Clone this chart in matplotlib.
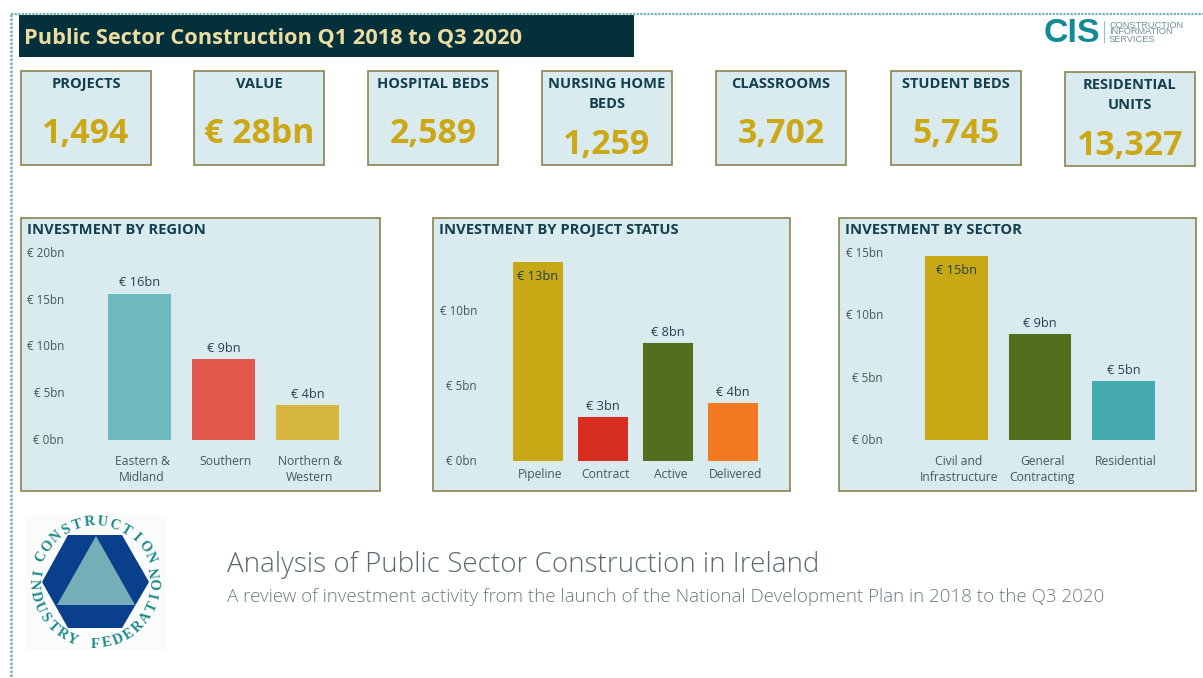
import numpy as np
import matplotlib
matplotlib.use("Agg")
import matplotlib.pyplot as plt
from matplotlib.patches import Rectangle, Polygon
from matplotlib.transforms import ScaledTranslation

W, H = 1203, 678
FONT = "Open Sans"
plt.rcParams["font.family"] = [FONT, "DejaVu Sans"]

# ---- data ----
title = "Public Sector Construction Q1 2018 to Q3 2020"
kpi_names = ["PROJECTS", "VALUE", "HOSPITAL BEDS", "NURSING HOME\nBEDS", "CLASSROOMS", "STUDENT BEDS", "RESIDENTIAL\nUNITS"]
kpi_values = ["1,494", "€ 28bn", "2,589", "1,259", "3,702", "5,745", "13,327"]

region_cats = ["Eastern &\nMidland", "Southern", "Northern &\nWestern"]
region_vals = [15.65, 8.65, 3.75]
region_labels = ["€ 16bn", "€ 9bn", "€ 4bn"]
region_ticks = [0, 5, 10, 15, 20]
region_cols = ["#6db9bf", "#e2564c", "#d6b63e"]

status_cats = ["Pipeline", "Contract", "Active", "Delivered"]
status_vals = [13.27, 2.93, 7.87, 3.87]
status_labels = ["€ 13bn", "€ 3bn", "€ 8bn", "€ 4bn"]
status_ticks = [0, 5, 10]
status_cols = ["#c9a815", "#d82e20", "#536f1e", "#f47a22"]

sector_cats = ["Civil and\nInfrastructure", "General\nContracting", "Residential"]
sector_vals = [14.75, 8.5, 4.73]
sector_labels = ["€ 15bn", "€ 9bn", "€ 5bn"]
sector_ticks = [0, 5, 10, 15]
sector_cols = ["#c9a815", "#536f1e", "#45a9b0"]

heading = "Analysis of Public Sector Construction in Ireland"
subheading = "A review of investment activity from the launch of the National Development Plan in 2018 to the Q3 2020"

# ---- canvas ----
fig = plt.figure(figsize=(W / 100, H / 100), dpi=100, facecolor="white")
bg = fig.add_axes([0, 0, 1, 1])
bg.set_xlim(0, W)
bg.set_ylim(H, 0)
bg.axis("off")

PANEL = "#d9ebee"
EDGE = "#8c8350"
DARK = "#123f4d"
GOLD = "#cda816"
GREY = "#44585f"

# report border
bg.plot([10.5, W], [14, 14], color="#6fb3b3", lw=1.6, ls=(0, (1, 0.6)))
bg.plot([10.5, 10.5], [14, H], color="#6fb3b3", lw=1.8, ls=(0, (1, 0.6)))

# title bar
bg.add_patch(Rectangle((19, 15), 615, 42, fc="#04303b", ec="none"))
bg.text(24, 38, title, color="#ecdca0", fontsize=15.7, fontweight="bold", va="center", ha="left")

# CIS logo
bg.text(1044, 34, "CIS", color="#138a94", fontsize=24.5, fontweight="bold", family="Liberation Sans",
        va="center", ha="left")
bg.plot([1104, 1104], [21, 42], color="#8cc4c8", lw=0.8)
for yy, s in zip([25, 32, 39], ["CONSTRUCTION", "INFORMATION", "SERVICES"]):
    bg.text(1109, yy, s, color="#6f8f95", fontsize=6.7, va="center", ha="left", family="Liberation Sans")

# KPI cards
kpi_x = [21, 194, 368, 542, 716, 891, 1065]
kpi_top = [71, 71, 71, 71, 71, 71, 72]
for x, top, name, val in zip(kpi_x, kpi_top, kpi_names, kpi_values):
    w = 130
    h = 94
    bg.add_patch(Rectangle((x, top), w, h, fc=PANEL, ec=EDGE, lw=1.2))
    two = "\n" in name
    if two:
        l1, l2 = name.split("\n")
        bg.text(x + w / 2, top + 13, l1, color=DARK, fontsize=10.5, fontweight="bold", ha="center", va="center")
        bg.text(x + w / 2, top + 33, l2, color=DARK, fontsize=10.5, fontweight="bold", ha="center", va="center")
        vy = top + 74
    else:
        bg.text(x + w / 2, top + 13, name, color=DARK, fontsize=10.5, fontweight="bold", ha="center", va="center")
        vy = top + 63
    bg.text(x + w / 2, vy, val, color=GOLD, fontsize=24.4, fontweight="bold", ha="center", va="center")


def px_axes(x0, x1, y_bottom, y_top):
    return fig.add_axes([x0 / W, 1 - y_bottom / H, (x1 - x0) / W, (y_bottom - y_top) / H])


def bar_panel(box, name, cats, vals, labels, ticks, cols, xr, yr, ymax, width, label_right, xpad, inside=()):
    x0, x1 = box
    bg.add_patch(Rectangle((x0, 218), x1 - x0, 273, fc=PANEL, ec=EDGE, lw=1.2))
    bg.text(x0 + 6, 230, name, color=DARK, fontsize=10.6, fontweight="bold", ha="left", va="center")
    ax = px_axes(xr[0], xr[1], yr[0], yr[1])
    ax.patch.set_alpha(0)
    pos = np.arange(len(cats))
    ax.bar(pos, vals, width=width, color=cols)
    ax.set_xlim(-0.5, len(cats) - 0.5)
    ax.set_ylim(0, ymax)
    for s in ax.spines.values():
        s.set_visible(False)
    ax.set_yticks(ticks)
    ax.set_yticklabels([f"€ {t}bn" for t in ticks], fontsize=8.4, color=GREY)
    ax.set_xticks(pos)
    ax.set_xticklabels(cats, fontsize=8.7, color=GREY, linespacing=1.3)
    ax.tick_params(axis="y", length=0, pad=(xr[0] - label_right) * 0.72)
    ax.tick_params(axis="x", length=0, pad=xpad)
    shift = ScaledTranslation(2.5 / 100, 0, fig.dpi_scale_trans)
    for lab in ax.get_xticklabels():
        lab.set_transform(lab.get_transform() + shift)
    yshift = ScaledTranslation(0, 1 / 100, fig.dpi_scale_trans)
    for lab in ax.get_yticklabels():
        lab.set_transform(lab.get_transform() + yshift)
    for i, (p, v, l) in enumerate(zip(pos, vals, labels)):
        off = -10.2 if i in inside else 7.8
        ax.annotate(l, (p, v), xytext=(0, off), textcoords="offset points", ha="center", va="center",
                    fontsize=9.2, color="#24434d", annotation_clip=False)
    return ax


bar_panel((21, 380), "INVESTMENT BY REGION", region_cats, region_vals, region_labels, region_ticks, region_cols,
          (97.5, 349.5), (440, 253), 20, 0.75, 64, 11)
bar_panel((433, 790), "INVESTMENT BY PROJECT STATUS", status_cats, status_vals, status_labels, status_ticks, status_cols,
          (505.5, 765.5), (461, 236), 15, 0.77, 477, 5.1, inside=(0,))
bar_panel((839, 1196), "INVESTMENT BY SECTOR", sector_cats, sector_vals, sector_labels, sector_ticks, sector_cols,
          (914.75, 1165.25), (440, 253), 15, 0.754, 883, 11, inside=(0,))

# federation logo
bg.add_patch(Rectangle((26, 515), 140, 135, fc="#fafbfb", ec="none"))
bg.add_patch(Polygon([(42, 582), (68, 535), (122, 535), (149, 582), (122, 628), (68, 628)], fc="#0a3f8c", ec="none"))
bg.add_patch(Polygon([(96, 536), (57, 605), (135, 605)], fc="#75aeb8", ec="none"))
cx, cy = 95.5, 582


def arc_text(s, a0, a1, radius, upper):
    for ch, a in zip(s, np.linspace(a0, a1, len(s))):
        t = np.deg2rad(a)
        px, py = cx + radius * np.cos(t), cy - radius * np.sin(t)
        rot = a - 90 if upper else a + 90
        bg.text(px, py, ch, color="#1f8a8a", fontsize=10.5, family="Liberation Serif", fontweight="bold",
                rotation=rot, rotation_mode="anchor", ha="center", va="center")


arc_text("CONSTRUCTION", 155, 24, 60, True)
arc_text("INDUSTRY FEDERATION", 171, 369, 62, False)

# headings
bg.text(227, 565, heading, color="#5a6a70", fontsize=20.0, fontweight="light", ha="left", va="center")
bg.text(227, 597, subheading, color="#6b7a80", fontsize=13.48, fontweight="light", ha="left", va="center")

fig.savefig("out.png", dpi=100, facecolor="white")
